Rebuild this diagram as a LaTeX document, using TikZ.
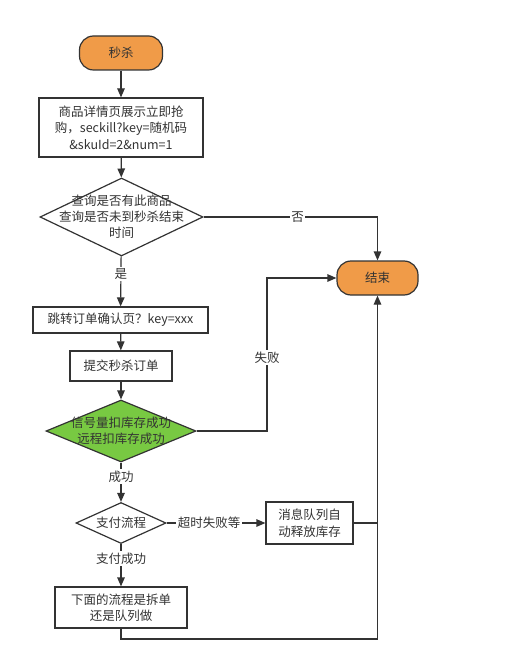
\documentclass[tikz,border=0pt]{standalone}
\usepackage{fontspec}
\setmainfont{Noto Sans CJK SC}
\definecolor{floworange}{RGB}{240,155,72}
\definecolor{flowgreen}{RGB}{120,201,66}
\definecolor{flowline}{RGB}{51,51,51}
\usetikzlibrary{shapes.geometric,arrows.meta,positioning,calc}

\tikzset{
    terminal/.style={draw=flowline, fill=floworange, line width=1.2pt, rounded corners=14pt, minimum width=83pt, minimum height=34pt, inner sep=0pt},
    procbox/.style={draw=flowline, fill=white, line width=1.2pt, align=center, inner sep=0pt},
    decision/.style={diamond, draw=flowline, fill=white, line width=1.2pt, inner sep=0pt},
    flow/.style={draw=flowline, line width=1.2pt, -{Triangle[length=9pt,width=7.5pt]}},
    plainline/.style={draw=flowline, line width=1.2pt},
    edgelabel/.style={fill=white, inner sep=1.5pt, text=flowline},
    every node/.style={font=\fontsize{12.5}{16.5}\selectfont, text=flowline},
    every label/.style={align=center, font=\fontsize{12.5}{16}\selectfont, text=flowline}
}

\begin{document}
\begin{tikzpicture}[x=1pt, y=-1pt]
    \useasboundingbox (0,0) rectangle (506,660);

    \node[terminal] (start) at (121,53) {秒杀};
    \node[procbox, minimum width=164pt, minimum height=59pt] (detail) at (121,127.5) {商品详情页展示立即抢\\购，seckill?key=随机码\\\&skuId=2\&num=1};
    \node[decision, minimum width=163pt, minimum height=78pt, label={center:查询是否有此商品\\查询是否未到秒杀结束\\时间}] (check) at (121.5,217) {};
    \node[terminal, minimum width=81pt] (finish) at (377.5,278) {结束};
    \node[procbox, minimum width=175pt, minimum height=26pt] (confirm) at (120.5,320) {跳转订单确认页？key=xxx};
    \node[procbox, minimum width=102pt, minimum height=30pt] (submit) at (121,366) {提交秒杀订单};
    \node[decision, fill=flowgreen, minimum width=150pt, minimum height=62pt, label={center:信号量扣库存成功\\远程扣库存成功}] (stock) at (121,431) {};
    \node[decision, minimum width=90pt, minimum height=41pt, label={center:支付流程}] (pay) at (121,523) {};
    \node[procbox, minimum width=87pt, minimum height=42pt] (release) at (309.5,523) {消息队列自\\动释放库存};
    \node[procbox, minimum width=132pt, minimum height=41pt] (split) at (121,607.5) {下面的流程是拆单\\还是队列做};

    \coordinate (failturn) at (267,278);
    \coordinate (joint) at (377.5,639);

    \draw[flow] (start) -- (detail);
    \draw[flow] (detail) -- (check);
    \draw[flow] (check) -- node[edgelabel, pos=0.35] {是} (confirm);
    \draw[flow] (check.east) -| node[edgelabel, pos=0.27] {否} (finish.north);
    \draw[flow] (confirm) -- (submit);
    \draw[flow] (submit) -- (stock);
    \draw[flow] (stock.east) -| node[edgelabel, pos=0.74] {失败} (failturn) -- (finish.west);
    \draw[flow] (stock) -- node[edgelabel, pos=0.35] {成功} (pay);
    \draw[flow] (pay) -- node[edgelabel, pos=0.43] {超时失败等} (release);
    \draw[flow] (pay) -- node[edgelabel, pos=0.34] {支付成功} (split);
    \draw[flow] (split.south) |- (joint) -- (finish.south);
    \draw[plainline] (release.east) -- (release.east -| finish.south);
\end{tikzpicture}
\end{document}
